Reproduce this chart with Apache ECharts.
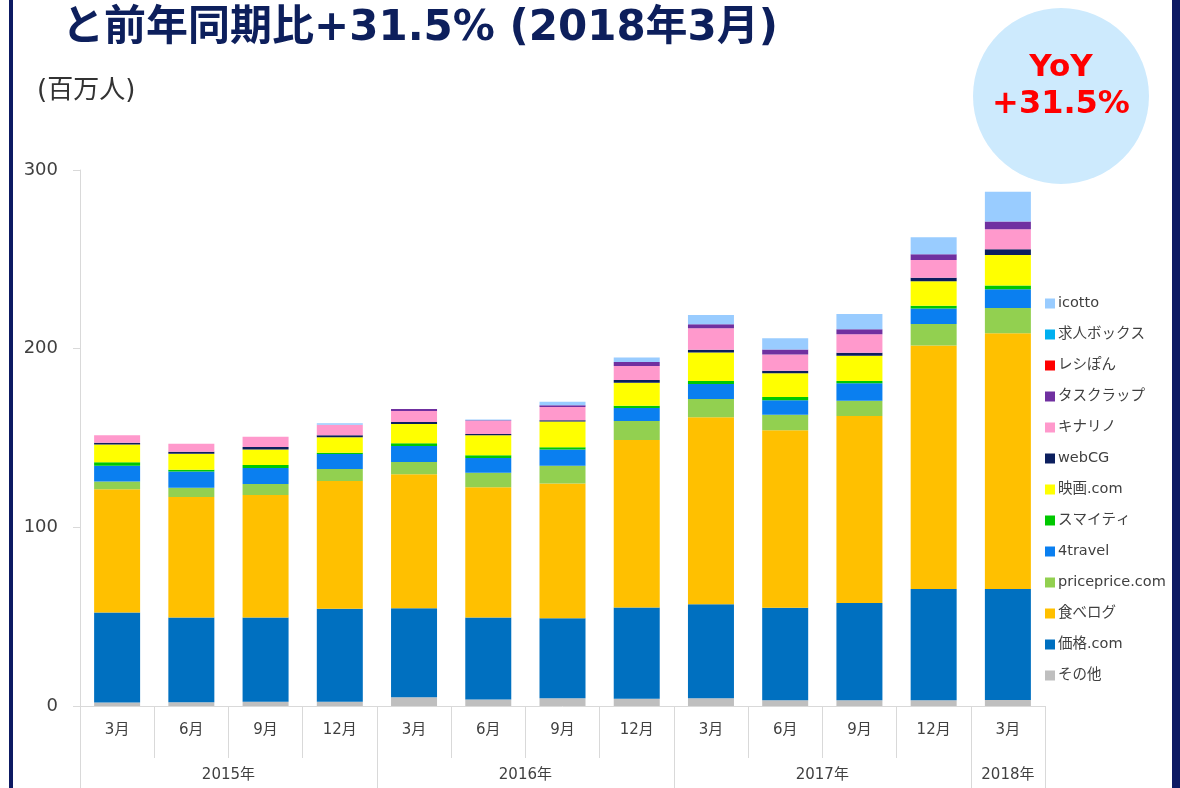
<!DOCTYPE html>
<html>
<head>
<meta charset="utf-8">
<script src="https://cdn.jsdelivr.net/npm/echarts@6/dist/echarts.min.js"></script>
<style>
  html, body { margin: 0; padding: 0; background: #fff; }
  #chart { width: 1180px; height: 788px; }
</style>
</head>
<body>
<div id="chart"></div>
<script>
// 横軸ラベル
const months = ['3月', '6月', '9月', '12月', '3月', '6月', '9月', '12月', '3月', '6月', '9月', '12月', '3月'];
// 年ラベル（半目盛り27個、年の中央に表示）
const yearSlots = ['', '', '', '', '2015年', '', '', '', '', '', '', '', '2016年', '', '', '', '', '', '', '', '2017年', '', '', '', '', '2018年', ''];
const yearTickIdx = [0, 8, 16, 24, 26];
const yTicks = [0, 100, 200, 300];

// 系列データ（百万人）
const sonota      = [2.0, 2.1, 2.4, 2.4, 4.9, 3.7, 4.3, 4.1, 4.3, 3.2, 3.2, 3.2, 3.4];
const kakaku      = [50.4, 47.5, 47.2, 52.0, 49.8, 45.9, 44.8, 51.1, 52.6, 51.8, 54.4, 62.3, 62.1];
const tabelog     = [68.9, 67.4, 68.5, 71.5, 75.0, 72.8, 75.5, 93.7, 104.7, 99.4, 104.7, 136.3, 143.1];
const priceprice  = [4.4, 5.2, 6.1, 6.7, 6.8, 8.2, 9.9, 10.6, 10.2, 8.6, 8.5, 12.0, 14.1];
const travel4     = [8.8, 9.1, 9.0, 8.4, 9.0, 8.2, 9.1, 7.3, 8.4, 8.1, 9.9, 8.7, 10.5];
const sumaity     = [1.9, 0.9, 1.7, 0.7, 1.5, 1.5, 1.2, 1.2, 1.7, 1.8, 1.2, 1.5, 2.2];
const eiga        = [10.0, 9.0, 8.7, 8.7, 10.8, 11.2, 14.5, 12.9, 16.0, 13.3, 14.1, 13.7, 17.0];
const webcg       = [0.9, 1.1, 1.3, 1.1, 1.1, 0.8, 0.7, 1.5, 1.5, 1.4, 1.7, 2.0, 3.2];
const kinarino    = [4.3, 4.5, 5.8, 5.9, 6.2, 7.3, 7.3, 7.9, 12.0, 9.2, 10.3, 9.9, 11.3];
const tasuclap    = [0, 0, 0, 0, 1.1, 0.4, 1.1, 2.2, 2.2, 2.8, 2.8, 3.3, 4.3];
const reshipon    = [0, 0, 0, 0, 0, 0, 0, 0, 0, 0, 0, 0, 0];
const kyujinbox   = [0, 0, 0, 0, 0, 0, 0, 0, 0, 0, 0, 0, 0];
const icotto      = [0, 0, 0, 0.8, 0, 0.4, 1.9, 2.6, 5.2, 6.2, 8.6, 9.4, 16.6];

const seriesList = [
  { name: 'その他', data: sonota, color: '#bfbfbf' },
  { name: '価格.com', data: kakaku, color: '#0070c0' },
  { name: '食べログ', data: tabelog, color: '#ffc000' },
  { name: 'priceprice.com', data: priceprice, color: '#92d050' },
  { name: '4travel', data: travel4, color: '#0a7ff0' },
  { name: 'スマイティ', data: sumaity, color: '#00c800' },
  { name: '映画.com', data: eiga, color: '#ffff00' },
  { name: 'webCG', data: webcg, color: '#0c1f5e' },
  { name: 'キナリノ', data: kinarino, color: '#ff99cc' },
  { name: 'タスクラップ', data: tasuclap, color: '#7030a0' },
  { name: 'レシぽん', data: reshipon, color: '#ff0000' },
  { name: '求人ボックス', data: kyujinbox, color: '#00b0f0' },
  { name: 'icotto', data: icotto, color: '#99ccff' }
];

const FONT = "'DejaVu Sans', 'Noto Sans CJK JP', sans-serif";
const chart = echarts.init(document.getElementById('chart'));

const option = {
  animation: false,
  textStyle: { fontFamily: FONT },
  graphic: [
    // 左右の枠線
    { type: 'rect', left: 9, top: 0, shape: { width: 4, height: 788 }, style: { fill: '#0d1a63' } },
    { type: 'rect', left: 1172, top: 0, shape: { width: 8, height: 788 }, style: { fill: '#0d1a63' } },
    // タイトル
    {
      type: 'text', left: 62, top: 8,
      style: {
        text: 'と前年同期比+31.5% (2018年3月)',
        font: "bold 42px 'DejaVu Sans', 'Noto Sans CJK JP', sans-serif",
        fill: '#0d1f5c'
      }
    },
    {
      type: 'text', left: 37, top: 78,
      style: { text: '(百万人)', font: "26px 'DejaVu Sans', 'Noto Sans CJK JP', sans-serif", fill: '#333333' }
    },
    // YoY 円
    { type: 'circle', shape: { cx: 1061, cy: 96, r: 88 }, style: { fill: '#cdeafd' } },
    {
      type: 'text', x: 1061, y: 68,
      style: {
        text: 'YoY', font: "bold 31px 'DejaVu Sans', 'Noto Sans', sans-serif",
        fill: '#ff0000', align: 'center', verticalAlign: 'middle'
      }
    },
    {
      type: 'text', x: 1061, y: 105,
      style: {
        text: '+31.5%', font: "bold 32px 'DejaVu Sans', 'Noto Sans', sans-serif",
        fill: '#ff0000', align: 'center', verticalAlign: 'middle'
      }
    }
  ],
  legend: {
    orient: 'vertical',
    left: 1040,
    top: 291,
    itemWidth: 10,
    itemHeight: 10,
    itemGap: 16,
    icon: 'rect',
    data: seriesList.map(s => s.name).reverse(),
    textStyle: { fontSize: 14.5, lineHeight: 15, color: '#404040', fontFamily: FONT, padding: [0, 0, 0, -2] }
  },
  grid: { left: 80, right: 135, top: 170, bottom: 82 },
  xAxis: [
    {
      type: 'category',
      data: months,
      axisLine: { lineStyle: { color: '#d9d9d9' } },
      axisTick: { show: true, length: 52, lineStyle: { color: '#d9d9d9' } },
      axisLabel: { margin: 17, fontSize: 15, color: '#404040', fontFamily: FONT }
    },
    {
      type: 'category',
      data: yearSlots,
      boundaryGap: false,
      position: 'bottom',
      axisLine: { show: false },
      axisTick: {
        show: true, length: 82,
        interval: (idx) => yearTickIdx.includes(idx),
        lineStyle: { color: '#d9d9d9' }
      },
      axisLabel: { interval: 0, margin: 62, fontSize: 15, color: '#404040', fontFamily: FONT }
    }
  ],
  yAxis: {
    type: 'value',
    min: yTicks[0],
    max: yTicks[yTicks.length - 1],
    interval: 100,
    axisLine: { show: true, lineStyle: { color: '#d9d9d9' } },
    axisTick: { show: true, length: 7, lineStyle: { color: '#d9d9d9' } },
    splitLine: { show: false },
    axisLabel: { margin: 22, fontSize: 18, color: '#404040', fontFamily: FONT }
  },
  series: seriesList.map(s => ({
    name: s.name,
    type: 'bar',
    stack: 'total',
    barWidth: 46,
    data: s.data,
    itemStyle: { color: s.color }
  }))
};

chart.setOption(option);
</script>
</body>
</html>
